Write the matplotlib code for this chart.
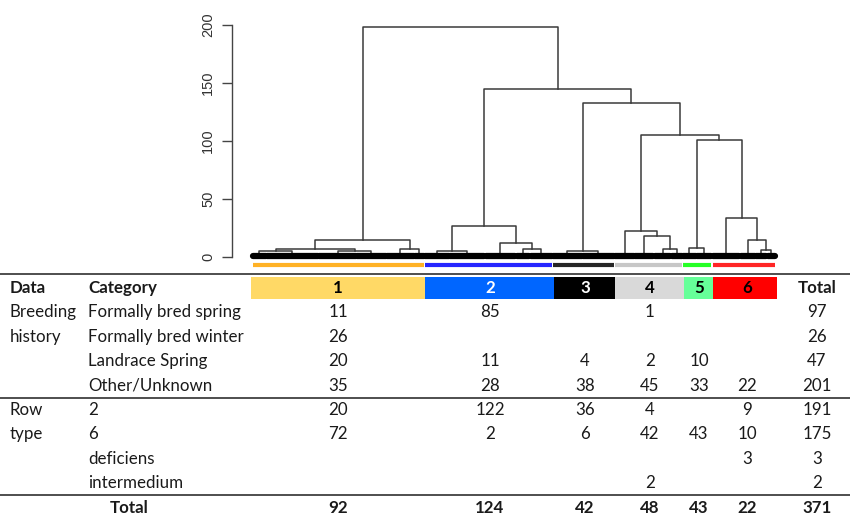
import matplotlib.pyplot as plt
from matplotlib.patches import Rectangle

# dendrogram: (height, left, right), plain ints are groups of leaves
clust1 = (15, (7, (5, 10, 37), (5, 27, 21)), (7, 20, 7))
clust2 = (27, (5, 18, 25), (12, 22, (7, 10, 16)))
clust3 = (5, 21, 23)
clust4 = (22, 14, (18, 14, (7, 12, 8)))
clust5 = (8, 10, 11)
clust6 = (34, 20, (15, 11, (6, 8, 6)))
top_heights = [101, 105, 133, 145, 198]
strip_sizes = [122, 91, 44, 48, 21, 45]
strip_colors = ['#FFA500', '#0000FF', '#000000', '#BEBEBE', '#00FF00', '#FF0000']

# table
clusters = ['1', '2', '3', '4', '5', '6']
head_colors = ['#FFD966', '#0066FF', '#000000', '#D9D9D9', '#66FF99', '#FF0000']
head_text = ['black', 'white', 'white', 'black', 'black', 'black']
breeding_cats = ['Formally bred spring', 'Formally bred winter', 'Landrace Spring', 'Other/Unknown']
breeding_vals = [[11, 85, None, 1, None, None],
                 [26, None, None, None, None, None],
                 [20, 11, 4, 2, 10, None],
                 [35, 28, 38, 45, 33, 22]]
breeding_tot = [97, 26, 47, 201]
row_cats = ['2', '6', 'deficiens', 'intermedium']
row_vals = [[20, 122, 36, 4, None, 9],
            [72, 2, 6, 42, 43, 10],
            [None, None, None, None, None, 3],
            [None, None, None, 2, None, None]]
row_tot = [191, 175, 3, 2]
cluster_tot = [92, 124, 42, 48, 43, 22]
grand_tot = 371

W, H = 850, 514
fig = plt.figure(figsize=(8.5, 5.14), dpi=100)

# ---- table (pixel coordinates) ----
tab = fig.add_axes([0, 0, 1, 1])
tab.set_xlim(0, W)
tab.set_ylim(H, 0)
tab.axis('off')

col_edges = [251, 425, 554, 615, 684, 713, 777]
col_x = [338, 490, 585, 650, 699, 747]
tot_x = 817
row0 = 288
dy = 24.4
font = 'Lato'
fs = 12.2
tc = '#1a1a1a'

for i, c in enumerate(clusters):
    tab.add_patch(Rectangle((col_edges[i], row0 - 11), col_edges[i + 1] - col_edges[i], 22,
                            color=head_colors[i], lw=0))
    tab.text(col_x[i], row0, c, ha='center', va='center', fontsize=fs, fontweight='bold',
             color=head_text[i], family=font)
tab.text(10, row0, 'Data', ha='left', va='center', fontsize=fs, fontweight='bold', color=tc, family=font)
tab.text(88, row0, 'Category', ha='left', va='center', fontsize=fs, fontweight='bold', color=tc, family=font)
tab.text(tot_x, row0, 'Total', ha='center', va='center', fontsize=fs, fontweight='bold', color=tc, family=font)


def block(start, group, cats, vals, tots):
    for k, name in enumerate(cats):
        y = row0 + dy * (start + k)
        tab.text(88, y, name, ha='left', va='center', fontsize=fs, color=tc, family=font)
        for i, v in enumerate(vals[k]):
            if v is not None:
                tab.text(col_x[i], y, str(v), ha='center', va='center', fontsize=fs, color=tc, family=font)
        tab.text(tot_x, y, str(tots[k]), ha='center', va='center', fontsize=fs, color=tc, family=font)
    for k, g in enumerate(group):
        tab.text(10, row0 + dy * (start + k), g, ha='left', va='center', fontsize=fs, color=tc, family=font)


block(1, ['Breeding', 'history'], breeding_cats, breeding_vals, breeding_tot)
block(5, ['Row', 'type'], row_cats, row_vals, row_tot)

y = row0 + dy * 9
tab.text(129, y, 'Total', ha='center', va='center', fontsize=fs, fontweight='bold', color=tc, family=font)
for i, v in enumerate(cluster_tot):
    tab.text(col_x[i], y, str(v), ha='center', va='center', fontsize=fs, fontweight='bold', color=tc, family=font)
tab.text(tot_x, y, str(grand_tot), ha='center', va='center', fontsize=fs, fontweight='bold', color=tc, family=font)

for yl in [274, row0 + dy * 4.5, row0 + dy * 8.5]:
    tab.plot([0, W], [yl, yl], color='#404040', lw=1.3)

# ---- dendrogram ----
px_leaf, px_unit = 1.41, 1.16
x0_px, y0_px = 253, 257
l_px, r_px, b_px, t_px = 232, 790, 270, 10
ax = fig.add_axes([l_px / W, (H - b_px) / H, (r_px - l_px) / W, (b_px - t_px) / H])
ax.patch.set_alpha(0)
ax.set_xlim((l_px - x0_px) / px_leaf, (r_px - x0_px) / px_leaf)
ax.set_ylim(-(b_px - y0_px) / px_unit, (y0_px - t_px) / px_unit)

tree = (top_heights[0], clust5, clust6)
tree = (top_heights[1], clust4, tree)
tree = (top_heights[2], clust3, tree)
tree = (top_heights[3], clust2, tree)
tree = (top_heights[4], clust1, tree)

pos = [0]
links = []
bands = []


def walk(node):
    if isinstance(node, int):
        a = pos[0]
        b = a + node - 1
        pos[0] += node
        bands.append((a, b))
        return (a + b) / 2, 1.0
    h, left, right = node
    xl, hl = walk(left)
    xr, hr = walk(right)
    links.append(([xl, xl, xr, xr], [hl, h, h, hr]))
    return (xl + xr) / 2, h


walk(tree)
for xs, ys in links:
    ax.plot(xs, ys, color='#3a3a3a', lw=1.1)
for a, b in bands:
    ax.plot([a, b], [0.9, 0.9], color='black', lw=4.5, solid_capstyle='round')

start = 0
for n, c in zip(strip_sizes, strip_colors):
    ax.plot([start, start + n - 1], [-6.9, -6.9], color=c, lw=3, alpha=0.85, solid_capstyle='butt')
    start += n

for s in ['top', 'right', 'bottom']:
    ax.spines[s].set_visible(False)
ax.spines['left'].set_bounds(0, 200)
ax.spines['left'].set_color('#444444')
ax.spines['left'].set_linewidth(1.0)
ax.set_xticks([])
ax.set_yticks([0, 50, 100, 150, 200])
ax.tick_params(axis='y', length=7, width=1.0, color='#444444', pad=5, labelsize=10.5,
               labelcolor='#333333', labelrotation=90)
for lab in ax.get_yticklabels():
    lab.set_family('Liberation Sans')
    lab.set_va('center')

fig.savefig('out.png', dpi=100)
